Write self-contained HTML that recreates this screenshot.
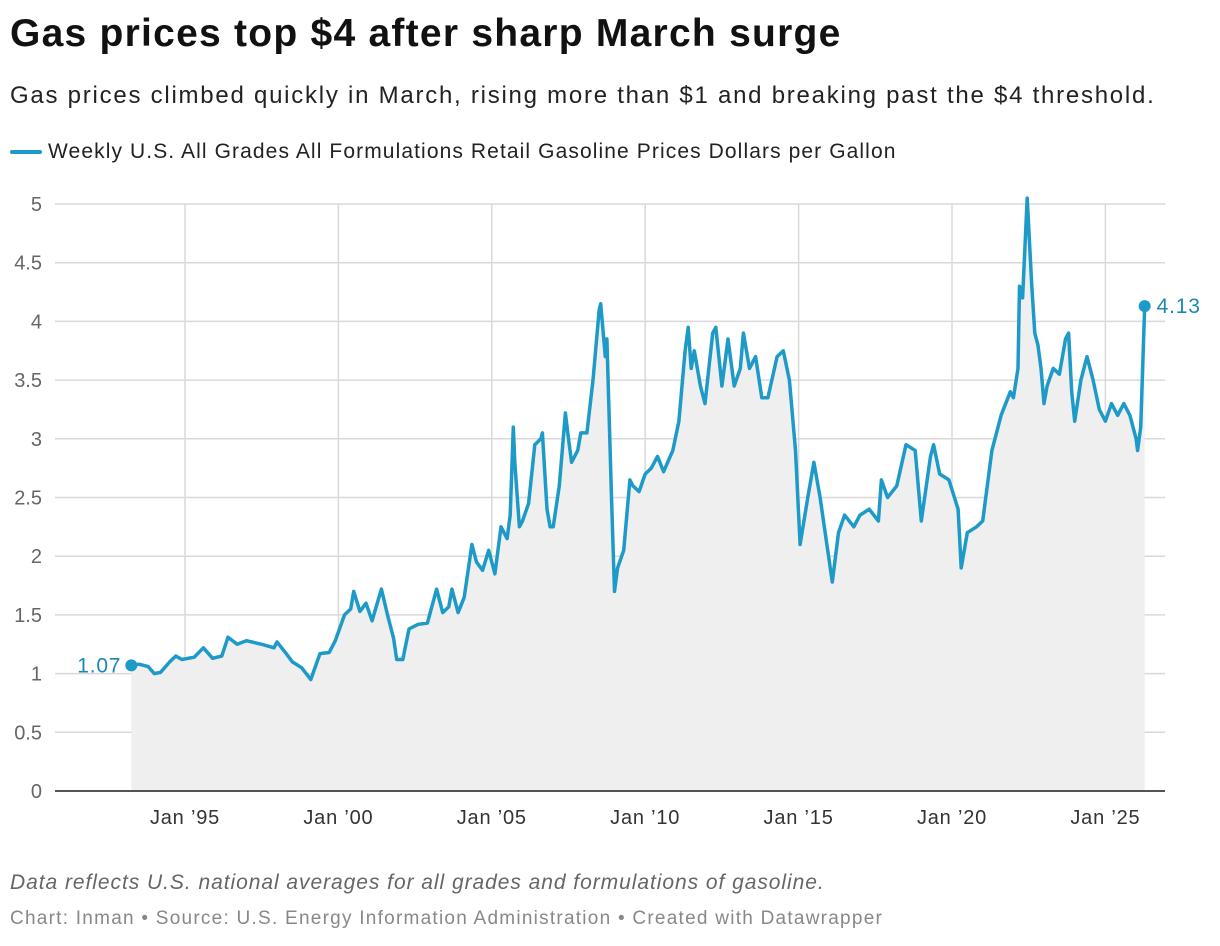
<!DOCTYPE html>
<html><head><meta charset="utf-8"><style>
body{margin:0;background:#fff;font-family:"Liberation Sans",Arial,sans-serif;}
#wrap{position:relative;width:1220px;height:946px;overflow:hidden}
.t{position:absolute;white-space:nowrap}
</style></head><body><div id="wrap">
<div class="t" style="left:10px;top:12px;font-size:39px;font-weight:bold;color:#111;letter-spacing:1.25px">Gas prices top $4 after sharp March surge</div>
<div class="t" style="left:10px;top:82px;font-size:24px;color:#222;letter-spacing:1.75px">Gas prices climbed quickly in March, rising more than $1 and breaking past the $4 threshold.</div>
<div class="t" style="left:10px;top:140px;font-size:21px;color:#222;letter-spacing:1.1px"><span style="display:inline-block;width:32px;height:4px;background:#1d9ac8;vertical-align:middle;margin-right:6px;border-radius:2px"></span>Weekly U.S. All Grades All Formulations Retail Gasoline Prices Dollars per Gallon</div>
<svg id="chart" width="1220" height="946" style="position:absolute;left:0;top:0"></svg>
<div class="t" style="left:10px;top:871px;font-size:21px;font-style:italic;color:#666;letter-spacing:0.95px">Data reflects U.S. national averages for all grades and formulations of gasoline.</div>
<div class="t" style="left:10px;top:908px;font-size:19px;color:#888;letter-spacing:1.25px">Chart: Inman • Source: U.S. Energy Information Administration • Created with Datawrapper</div>
</div>
<script>
const dates=[1993.25,1993.5,1993.8,1994.0,1994.2,1994.5,1994.7,1994.9,1995.3,1995.6,1995.9,1996.2,1996.4,1996.7,1997.0,1997.5,1997.9,1998.0,1998.3,1998.5,1998.8,1999.1,1999.4,1999.7,1999.9,2000.2,2000.4,2000.5,2000.7,2000.9,2001.1,2001.4,2001.6,2001.8,2001.9,2002.1,2002.3,2002.6,2002.9,2003.2,2003.4,2003.6,2003.7,2003.9,2004.1,2004.35,2004.5,2004.7,2004.9,2005.1,2005.3,2005.5,2005.6,2005.7,2005.75,2005.9,2006.0,2006.2,2006.4,2006.6,2006.65,2006.8,2006.9,2007.0,2007.2,2007.4,2007.5,2007.6,2007.8,2007.9,2008.1,2008.3,2008.5,2008.55,2008.7,2008.75,2008.9,2009.0,2009.1,2009.3,2009.5,2009.6,2009.8,2010.0,2010.2,2010.4,2010.6,2010.9,2011.1,2011.3,2011.4,2011.5,2011.6,2011.8,2011.95,2012.2,2012.3,2012.5,2012.7,2012.9,2013.1,2013.2,2013.4,2013.6,2013.8,2014.0,2014.3,2014.5,2014.7,2014.9,2015.05,2015.3,2015.5,2015.7,2015.95,2016.1,2016.3,2016.5,2016.8,2017.0,2017.3,2017.6,2017.7,2017.9,2018.2,2018.5,2018.8,2019.0,2019.3,2019.4,2019.6,2019.9,2020.2,2020.3,2020.5,2020.8,2021.0,2021.3,2021.6,2021.9,2022.0,2022.15,2022.2,2022.3,2022.45,2022.6,2022.7,2022.8,2022.9,2023.0,2023.1,2023.3,2023.5,2023.7,2023.8,2023.9,2024.0,2024.2,2024.4,2024.6,2024.8,2025.0,2025.2,2025.4,2025.6,2025.8,2026.0,2026.05,2026.15,2026.28];
const prices=[1.07,1.08,1.06,1.0,1.01,1.10,1.15,1.12,1.14,1.22,1.13,1.15,1.31,1.25,1.28,1.25,1.22,1.27,1.17,1.10,1.05,0.95,1.17,1.18,1.28,1.5,1.55,1.70,1.53,1.6,1.45,1.72,1.5,1.3,1.12,1.12,1.38,1.42,1.43,1.72,1.52,1.57,1.72,1.52,1.65,2.1,1.95,1.88,2.05,1.85,2.25,2.15,2.35,3.1,2.8,2.25,2.3,2.45,2.95,3.0,3.05,2.4,2.25,2.25,2.6,3.22,3.0,2.8,2.9,3.05,3.05,3.5,4.1,4.15,3.7,3.85,2.5,1.7,1.9,2.05,2.65,2.6,2.55,2.7,2.75,2.85,2.72,2.9,3.15,3.75,3.95,3.6,3.75,3.45,3.3,3.9,3.95,3.45,3.85,3.45,3.6,3.9,3.6,3.7,3.35,3.35,3.7,3.75,3.5,2.9,2.1,2.5,2.8,2.5,2.05,1.78,2.2,2.35,2.25,2.35,2.4,2.3,2.65,2.5,2.6,2.95,2.9,2.3,2.85,2.95,2.7,2.65,2.4,1.9,2.2,2.25,2.3,2.9,3.2,3.4,3.35,3.6,4.3,4.2,5.05,4.3,3.9,3.8,3.6,3.3,3.45,3.6,3.55,3.85,3.9,3.4,3.15,3.5,3.7,3.5,3.25,3.15,3.3,3.2,3.3,3.2,3.0,2.9,3.1,4.13];
const yTicks=[0,0.5,1,1.5,2,2.5,3,3.5,4,4.5,5];
const yTickLabels=["0","0.5","1","1.5","2","2.5","3","3.5","4","4.5","5"];
const xTicks=[1995,2000,2005,2010,2015,2020,2025];
const xTickLabels=["Jan \u201995","Jan \u201900","Jan \u201905","Jan \u201910","Jan \u201915","Jan \u201920","Jan \u201925"];
const NS="http://www.w3.org/2000/svg";
const svg=document.getElementById('chart');
const X=d=>185+(d-1995)*30.68;
const Y=v=>791-v*117.4;
function mk(t,a){const e=document.createElementNS(NS,t);for(const k in a)e.setAttribute(k,a[k]);svg.appendChild(e);return e;}
yTicks.forEach((v,i)=>{
 const l=mk('line',{x1:55,x2:1165,y1:Y(v),y2:Y(v),stroke:'#d9d9d9','stroke-width':1.5});
 
 
 const t=mk('text',{x:42,y:Y(v)+7,'text-anchor':'end','font-size':20,fill:'#666','font-family':'Liberation Sans, sans-serif'});
 t.textContent=yTickLabels[i];
 
 
});
xTicks.forEach((d,i)=>{
 const l=mk('line',{x1:X(d),x2:X(d),y1:Y(5),y2:Y(0),stroke:'#d9d9d9','stroke-width':1.5});
 
 
 const t=mk('text',{x:X(d),y:824,'text-anchor':'middle','font-size':20,fill:'#333','font-family':'Liberation Sans, sans-serif','letter-spacing':'0.8'});
 t.textContent=xTickLabels[i];
 
 
});
let dl=dates.map((d,i)=>(i?'L':'M')+X(d).toFixed(1)+','+Y(prices[i]).toFixed(1)).join('');
const area=mk('path',{d:dl+'L'+X(dates[dates.length-1])+','+Y(0)+'L'+X(dates[0])+','+Y(0)+'Z',fill:'#efefef'});


const base=mk('line',{x1:55,x2:1165,y1:Y(0),y2:Y(0),stroke:'#222','stroke-width':1.5});


const line=mk('path',{d:dl,fill:'none',stroke:'#1d9ac8','stroke-width':3.5,'stroke-linejoin':'round'});


[[0,'end',-10],[dates.length-1,'start',12]].forEach(([i,anc,dx])=>{
 const c=mk('circle',{cx:X(dates[i]),cy:Y(prices[i]),r:6,fill:'#1d9ac8'});
 
 
 const t=mk('text',{x:X(dates[i])+dx,y:Y(prices[i])+7,'text-anchor':anc,'font-size':21,fill:'#1a88b3','font-family':'Liberation Sans, sans-serif','letter-spacing':'0.8'});
 t.textContent=prices[i].toFixed(2);
 
 
});
</script></body></html>
